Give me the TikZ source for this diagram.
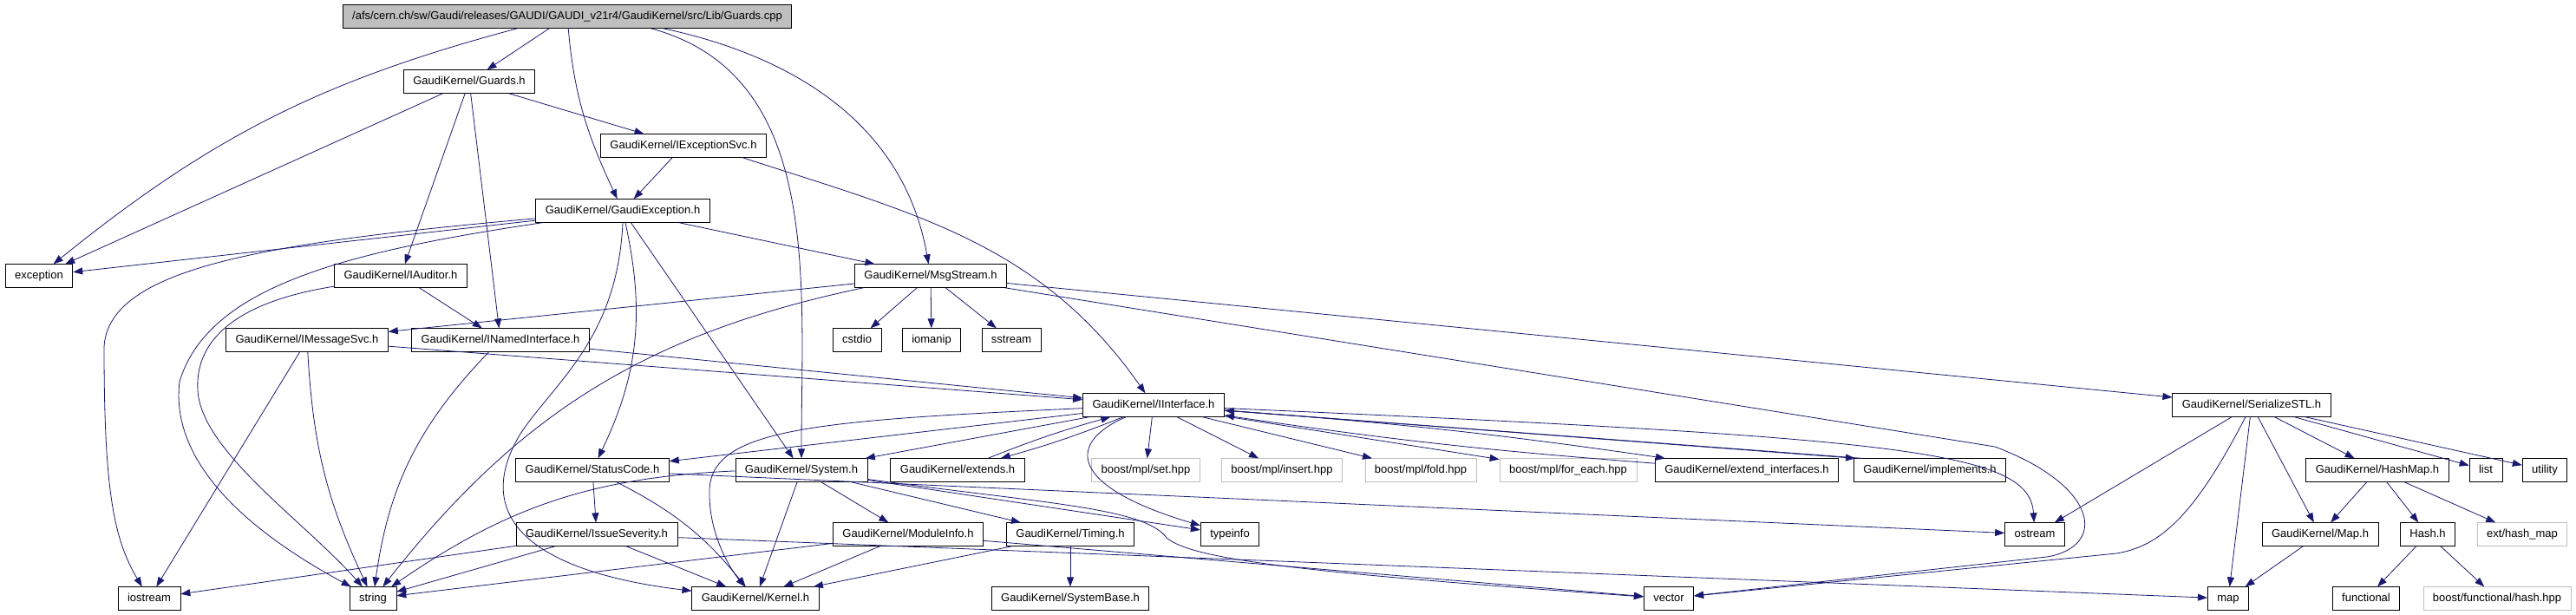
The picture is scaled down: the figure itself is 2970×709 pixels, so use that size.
\documentclass[tikz,border=0pt]{standalone}
\usepackage{fontspec}
\setmainfont{Liberation Sans}
\usetikzlibrary{arrows.meta}
\definecolor{edgeblue}{HTML}{191970}
\definecolor{extgray}{HTML}{BFBFBF}
\tikzset{
  filebox/.style={
    draw=black,
    fill=white,
    line width=0.8pt,
    inner xsep=11pt,
    inner ysep=2pt,
    minimum height=26.5pt,
    text height=10pt,
    text depth=3pt,
    font=\fontsize{13}{15}\selectfont
  },
  extbox/.style={
    filebox,
    draw=extgray
  },
  rootbox/.style={
    filebox,
    fill=extgray
  },
  deparrow/.style={
    -{Triangle[length=11pt,width=8pt]},
    draw=edgeblue,
    line width=0.8pt
  }
}

\begin{document}
\begin{tikzpicture}[x=1pt,y=1pt]
  \useasboundingbox (0,0) rectangle (2970,-709);
  % rows of files, top to bottom
  \node[rootbox] (root) at (654,-19) {/afs/cern.ch/sw/Gaudi/releases/GAUDI/GAUDI\_v21r4/GaudiKernel/src/Lib/Guards.cpp};
  \node[filebox] (guards) at (541,-94) {GaudiKernel/Guards.h};
  \node[filebox] (iexcsvc) at (788,-168) {GaudiKernel/IExceptionSvc.h};
  \node[filebox] (gexc) at (718,-243) {GaudiKernel/GaudiException.h};
  \node[filebox] (exception) at (45,-318) {exception};
  \node[filebox] (iauditor) at (462,-318) {GaudiKernel/IAuditor.h};
  \node[filebox] (msgstream) at (1073,-318) {GaudiKernel/MsgStream.h};
  \node[filebox] (imsgsvc) at (354,-392) {GaudiKernel/IMessageSvc.h};
  \node[filebox] (inamed) at (577,-392) {GaudiKernel/INamedInterface.h};
  \node[filebox] (cstdio) at (988,-392) {cstdio};
  \node[filebox] (iomanip) at (1074,-392) {iomanip};
  \node[filebox] (sstream) at (1166,-392) {sstream};
  \node[filebox] (iinterface) at (1330,-467) {GaudiKernel/IInterface.h};
  \node[filebox] (serialize) at (2596,-467) {GaudiKernel/SerializeSTL.h};
  \node[filebox] (statuscode) at (683,-542) {GaudiKernel/StatusCode.h};
  \node[filebox] (system) at (924,-542) {GaudiKernel/System.h};
  \node[filebox] (extends) at (1104,-542) {GaudiKernel/extends.h};
  \node[extbox] (mplset) at (1321,-542) {boost/mpl/set.hpp};
  \node[extbox] (mplinsert) at (1478,-542) {boost/mpl/insert.hpp};
  \node[extbox] (mplfold) at (1638,-542) {boost/mpl/fold.hpp};
  \node[extbox] (mplforeach) at (1808,-542) {boost/mpl/for\_each.hpp};
  \node[filebox] (extendif) at (2014,-542) {GaudiKernel/extend\_interfaces.h};
  \node[filebox] (implements) at (2225,-542) {GaudiKernel/implements.h};
  \node[filebox] (hashmap) at (2741,-542) {GaudiKernel/HashMap.h};
  \node[filebox] (list) at (2866,-542) {list};
  \node[filebox] (utility) at (2934,-542) {utility};
  \node[filebox] (issue) at (688,-616) {GaudiKernel/IssueSeverity.h};
  \node[filebox] (modinfo) at (1047,-616) {GaudiKernel/ModuleInfo.h};
  \node[filebox] (timing) at (1234,-616) {GaudiKernel/Timing.h};
  \node[filebox] (typeinfo) at (1418,-616) {typeinfo};
  \node[filebox] (ostream) at (2346,-616) {ostream};
  \node[filebox] (mapH) at (2675,-616) {GaudiKernel/Map.h};
  \node[filebox] (hash) at (2799,-616) {Hash.h};
  \node[extbox] (exthashmap) at (2908,-616) {ext/hash\_map};
  \node[filebox] (iostream) at (172,-690) {iostream};
  \node[filebox] (string) at (430,-690) {string};
  \node[filebox] (kernel) at (871,-690) {GaudiKernel/Kernel.h};
  \node[filebox] (systembase) at (1234,-690) {GaudiKernel/SystemBase.h};
  \node[filebox] (vector) at (1924,-690) {vector};
  \node[filebox] (map) at (2569,-690) {map};
  \node[filebox] (functional) at (2728,-690) {functional};
  \node[extbox] (boosthash) at (2879,-690) {boost/functional/hash.hpp};

  % Guards.cpp
  \draw[deparrow] ([xshift=-57pt]root.south) to[bend right=12] (exception);
  \draw[deparrow] (root) -- (guards);
  \draw[deparrow] (root) to[out=-85,in=115] (gexc);
  \draw[deparrow] ([xshift=96pt]root.south) to[out=-15,in=90] (system);
  \draw[deparrow] ([xshift=110pt]root.south) to[out=-12,in=100] (msgstream);
  % Guards.h
  \draw[deparrow] (guards) -- (exception);
  \draw[deparrow] (guards) -- (iexcsvc);
  \draw[deparrow] (guards) -- (iauditor);
  \draw[deparrow] (guards) -- (inamed);
  % IExceptionSvc.h
  \draw[deparrow] (iexcsvc) -- (gexc);
  \draw[deparrow] ([xshift=68pt]iexcsvc.south) to[out=-18,in=125] (iinterface);
  % GaudiException.h
  \draw[deparrow] (gexc) -- (exception);
  \draw[deparrow] (gexc) .. controls (300,-280) and (125,-310) .. (120,-400)
    .. controls (120,-560) and (130,-620) .. (iostream);
  \draw[deparrow] (gexc) .. controls (400,-290) and (240,-330) .. (207,-440)
    .. controls (195,-540) and (300,-620) .. (string);
  \draw[deparrow] (gexc.south) .. controls (712,-390) and (640,-440) .. (600,-500)
    .. controls (540,-600) and (620,-660) .. (kernel);
  \draw[deparrow] (gexc) to[bend left=19] (statuscode);
  \draw[deparrow] (gexc) -- (system);
  \draw[deparrow] (gexc) -- (msgstream);
  % IAuditor.h
  \draw[deparrow] (iauditor) -- (inamed);
  \draw[deparrow] (iauditor) .. controls (260,-350) and (225,-400) .. (228,-450)
    .. controls (232,-520) and (350,-600) .. (string);
  % MsgStream.h
  \draw[deparrow] (msgstream) -- (imsgsvc);
  \draw[deparrow] (msgstream) -- (cstdio);
  \draw[deparrow] (msgstream) -- (iomanip);
  \draw[deparrow] (msgstream) -- (sstream);
  \draw[deparrow] (msgstream) to[bend right=20] (string);
  \draw[deparrow] (msgstream) -- (serialize);
  \draw[deparrow] (msgstream) -- (2300,-515) .. controls (2420,-560) and (2430,-630) .. (2360,-642) -- (vector);
  % IMessageSvc.h
  \draw[deparrow] (imsgsvc) -- (iinterface);
  \draw[deparrow] (imsgsvc) -- (iostream);
  \draw[deparrow] (imsgsvc) to[bend right=11] (string);
  % INamedInterface.h
  \draw[deparrow] (inamed) -- (iinterface);
  \draw[deparrow] (inamed) to[bend right=18] (string);
  % IInterface.h
  \draw[deparrow] (iinterface) -- (statuscode);
  \draw[deparrow] (iinterface) -- (system);
  \draw[deparrow] (iinterface) .. controls (930,-485) and (815,-495) .. (818,-570)
    .. controls (818,-620) and (845,-660) .. (kernel);
  \draw[deparrow] (iinterface) to[bend left=3] (extends);
  \draw[deparrow] (extends) to[bend left=3] (iinterface);
  \draw[deparrow] (iinterface) -- (mplset);
  \draw[deparrow] (iinterface) -- (mplinsert);
  \draw[deparrow] (iinterface) -- (mplfold);
  \draw[deparrow] (iinterface) -- (mplforeach);
  \draw[deparrow] (iinterface) to[bend left=2] (extendif);
  \draw[deparrow] (extendif) to[bend left=2] (iinterface);
  \draw[deparrow] (iinterface) -- ([xshift=2pt]implements.north west);
  \draw[deparrow] ([xshift=10pt]implements.north west) -- (iinterface);
  \draw[deparrow] (iinterface) .. controls (2200,-505) and (2340,-520) .. (ostream);
  \draw[deparrow] (iinterface) .. controls (1230,-510) and (1230,-560) .. (typeinfo);
  % StatusCode.h
  \draw[deparrow] (statuscode) -- (issue);
  \draw[deparrow] (statuscode) to[bend left=12] (kernel);
  \draw[deparrow] (statuscode) -- (ostream);
  % System.h
  \draw[deparrow] (system) -- (kernel);
  \draw[deparrow] (system) -- (modinfo);
  \draw[deparrow] (system) -- (timing);
  \draw[deparrow] (system) -- (typeinfo);
  \draw[deparrow] (system) .. controls (1200,-580) and (1320,-585) .. (1345,-620)
    .. controls (1375,-645) and (1500,-660) .. (vector);
  \draw[deparrow] (system) to[bend right=16] (string);
  % IssueSeverity.h
  \draw[deparrow] (issue) -- (kernel);
  \draw[deparrow] (issue) -- (map);
  \draw[deparrow] (issue) -- (string);
  \draw[deparrow] (issue) -- (iostream);
  % ModuleInfo.h
  \draw[deparrow] (modinfo) -- (kernel);
  \draw[deparrow] (modinfo) -- (string);
  \draw[deparrow] (modinfo) -- (vector);
  % Timing.h
  \draw[deparrow] (timing) -- (kernel);
  \draw[deparrow] (timing) -- (systembase);
  % SerializeSTL.h
  \draw[deparrow] (serialize) -- (ostream);
  \draw[deparrow] (serialize) .. controls (2530,-595) and (2490,-630) .. (2440,-638) -- (vector);
  \draw[deparrow] (serialize) -- (map);
  \draw[deparrow] (serialize) -- (mapH);
  \draw[deparrow] (serialize) -- (hashmap);
  \draw[deparrow] (serialize) -- (list);
  \draw[deparrow] (serialize) -- (utility);
  % HashMap.h, Map.h, Hash.h
  \draw[deparrow] (hashmap) -- (mapH);
  \draw[deparrow] (hashmap) -- (hash);
  \draw[deparrow] (hashmap) -- (exthashmap);
  \draw[deparrow] (mapH) -- (map);
  \draw[deparrow] (hash) -- (functional);
  \draw[deparrow] (hash) -- (boosthash);
\end{tikzpicture}
\end{document}
